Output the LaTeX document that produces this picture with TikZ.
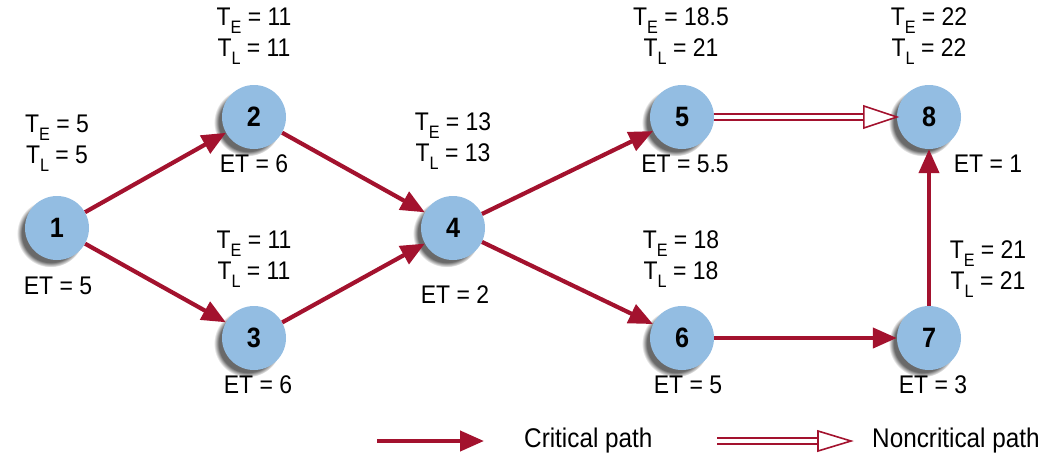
\documentclass[tikz,border=0pt]{standalone}
\usepackage{fontspec}
\setmainfont{Liberation Sans}[FakeStretch=0.9]
\usetikzlibrary{arrows.meta,shadows,calc}
\definecolor{critred}{HTML}{A3122E}
\definecolor{nodeblue}{HTML}{93BDE2}
\newcommand\TsubE{T\raisebox{-0.3em}{\fontsize{18}{18}\selectfont E}}
\newcommand\TsubL{T\raisebox{-0.3em}{\fontsize{18}{18}\selectfont L}}
\begin{document}
\begin{tikzpicture}[x=1pt,y=-1pt,
  ev/.style={circle, minimum size=64pt, inner sep=0pt, fill=nodeblue,
    font=\fontsize{28}{28}\selectfont\bfseries,
    circular drop shadow={shadow xshift=-6pt, shadow yshift=-5pt, shadow scale=1.06, opacity=0.9, fill=black!65}},
  lbl/.style={align=center, inner sep=0pt, font=\fontsize{25.5}{31}\selectfont},
  leg/.style={inner sep=0pt, font=\fontsize{27}{31}\selectfont},
  crit/.style={draw=critred, line width=4.2pt, -{Triangle[length=24pt,width=20pt]}},
  noncrit/.style={draw=critred, line width=1.6pt, double=white, double distance=4.5pt},
  ncrhead/.style={draw=critred, line width=1.6pt, fill=white, line join=miter}
]
\useasboundingbox (0,0) rectangle (1048,461);
% events
\node[ev] (1) at (57,228) {1};
\node[ev] (2) at (254,117) {2};
\node[ev] (3) at (254,338) {3};
\node[ev] (4) at (453,228) {4};
\node[ev] (5) at (682,117) {5};
\node[ev] (6) at (682,338) {6};
\node[ev] (7) at (929,338) {7};
\node[ev] (8) at (929,117) {8};
% time labels
\node[lbl] (t1) at (57,143) {\TsubE{} = 5\\\TsubL{} = 5};
\node[lbl] (t2) at (254,36) {\TsubE{} = 11\\\TsubL{} = 11};
\node[lbl] (t3) at (254,259) {\TsubE{} = 11\\\TsubL{} = 11};
\node[lbl] (t4) at (453,141) {\TsubE{} = 13\\\TsubL{} = 13};
\node[lbl] (t5) at (681,36) {\TsubE{} = 18.5\\\TsubL{} = 21};
\node[lbl] (t6) at (681,259) {\TsubE{} = 18\\\TsubL{} = 18};
\node[lbl] (t7) at (988,269) {\TsubE{} = 21\\\TsubL{} = 21};
\node[lbl] (t8) at (929,36) {\TsubE{} = 22\\\TsubL{} = 22};
% durations
\node[lbl] (e1) at (58,286) {ET = 5};
\node[lbl] (e2) at (254,164) {ET = 6};
\node[lbl] (e3) at (258,385) {ET = 6};
\node[lbl] (e4) at (455,295) {ET = 2};
\node[lbl] (e5) at (685,164) {ET = 5.5};
\node[lbl] (e6) at (688,385) {ET = 5};
\node[lbl] (e7) at (933,385) {ET = 3};
\node[lbl] (e8) at (988,164) {ET = 1};
% critical activities
\draw[crit] (1) -- (2);
\draw[crit] (1) -- (3);
\draw[crit] (2) -- (4);
\draw[crit] (3) -- (4);
\draw[crit] (4) -- (5);
\draw[crit] (4) -- (6);
\draw[crit] (6) -- (7);
\draw[crit] (7) -- (8);
% noncritical activity
\coordinate (h8) at ($(8.west)+(-33,0)$);
\draw[noncrit] (5) -- (h8);
\draw[ncrhead] ($(h8)+(0,-11)$) -- (8.west) -- ($(h8)+(0,11)$) -- cycle;
% legend
\coordinate (la) at (377,441);
\coordinate (lb) at (484,441);
\draw[crit] (la) -- (lb);
\node[leg, anchor=west] (lt1) at (524,441) {Critical path};
\coordinate (lc) at (717,441);
\coordinate (ld) at (818,441);
\coordinate (le) at (851,441);
\draw[noncrit] (lc) -- (ld);
\draw[ncrhead] ($(ld)+(0,-10)$) -- (le) -- ($(ld)+(0,10)$) -- cycle;
\node[leg, anchor=west] (lt2) at (872,441) {Noncritical path};
\end{tikzpicture}
\end{document}
